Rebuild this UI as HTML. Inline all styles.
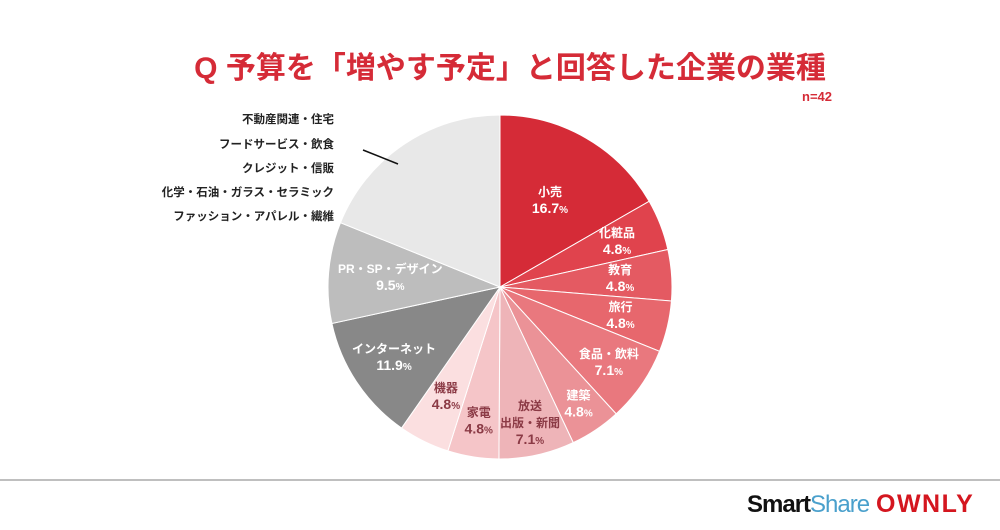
<!DOCTYPE html>
<html><head><meta charset="utf-8"><style>
body{margin:0;background:#fff;width:1000px;height:525px;overflow:hidden;font-family:"Liberation Sans","Noto Sans CJK JP",sans-serif}
</style></head><body>
<svg width="1000" height="525" id="svg" font-family="Liberation Sans, Noto Sans CJK JP, sans-serif">
<text x="510" y="78" text-anchor="middle" font-size="30" font-weight="bold" fill="#d52b37">Q 予算を「増やす予定」と回答した企業の業種</text>
<text x="832" y="101" text-anchor="end" font-size="13" font-weight="bold" fill="#d52b37">n=42</text>
<g id="slices"></g>
<g id="labels"></g>
<g font-size="11.5" font-weight="bold" fill="#222" text-anchor="end">
<text x="334" y="123">不動産関連・住宅</text>
<text x="334" y="148">フードサービス・飲食</text>
<text x="334" y="172">クレジット・信販</text>
<text x="334" y="196">化学・石油・ガラス・セラミック</text>
<text x="334" y="220">ファッション・アパレル・繊維</text>
</g>
<line x1="363" y1="150" x2="398" y2="164" stroke="#111" stroke-width="1.5"/>
<line x1="0" y1="480" x2="1000" y2="480" stroke="#aaa" stroke-width="1.5"/>
<text x="747" y="512" font-size="24" font-weight="bold" letter-spacing="-1"><tspan fill="#111">Smart</tspan><tspan fill="#4aa0cc" font-weight="normal">Share</tspan></text>
<text x="876" y="512" font-size="25" font-weight="bold" fill="#d4161f" letter-spacing="1.5">OWNLY</text>
</svg>
<script>
const categories=["小売","化粧品","教育","旅行","食品・飲料","建築","放送\n出版・新聞","家電","機器","インターネット","PR・SP・デザイン","その他"];
const values=[16.7,4.8,4.8,4.8,7.1,4.8,7.1,4.8,4.8,11.9,9.5,18.9];
const printed=["16.7","4.8","4.8","4.8","7.1","4.8","7.1","4.8","4.8","11.9","9.5",""];
const colors=["#d52b37","#e0434d","#e45a62","#e7676d","#e9787e","#eb9297","#eeb4b8","#f5c5c8","#fbdfe0","#888888","#bdbdbd","#e8e8e8"];
const textColors=["#fff","#fff","#fff","#fff","#fff","#fff","#8b3a45","#8b3a45","#8b3a45","#fff","#fff","#fff"];
const labelRadius=[0.58,0.73,0.70,0.72,0.77,0.82,0.81,0.79,0.71,0.74,0.64,0.6];
const cx=500,cy=287,r=172,NS="http://www.w3.org/2000/svg";
const total=values.reduce((a,b)=>a+b,0);
const ang=v=>v/total*2*Math.PI;
const pt=(a,rr)=>[cx+rr*Math.sin(a),cy-rr*Math.cos(a)];
let a0=0;const sg=document.getElementById('slices'),lg=document.getElementById('labels');
values.forEach((v,i)=>{
 const a1=a0+ang(v);const p0=pt(a0,r),p1=pt(a1,r);
 const p=document.createElementNS(NS,'path');
 p.setAttribute('d',`M${cx},${cy}L${p0[0]},${p0[1]}A${r},${r} 0 ${a1-a0>Math.PI?1:0} 1 ${p1[0]},${p1[1]}Z`);
 p.setAttribute('fill',colors[i]);p.setAttribute('stroke','#fff');p.setAttribute('stroke-width','1');
 
 
 sg.appendChild(p);
 if(printed[i]){
  const m=(a0+a1)/2;const c=pt(m,r*labelRadius[i]);
  const lines=categories[i].split("\n");
  const t=document.createElementNS(NS,'text');
  t.setAttribute('text-anchor','middle');t.setAttribute('font-weight','bold');t.setAttribute('fill',textColors[i]);
  
  
  const n=lines.length+1;let y=c[1]-(n-1)*8.5+4;
  lines.forEach(l=>{const ts=document.createElementNS(NS,'tspan');ts.setAttribute('x',c[0]);ts.setAttribute('y',y);ts.setAttribute('font-size','12');ts.textContent=l;t.appendChild(ts);y+=17;});
  const ts=document.createElementNS(NS,'tspan');ts.setAttribute('x',c[0]);ts.setAttribute('y',y);ts.setAttribute('font-size','14');ts.textContent=printed[i];
  const pc=document.createElementNS(NS,'tspan');pc.setAttribute('font-size','10');pc.textContent='%';ts.appendChild(pc);
  t.appendChild(ts);lg.appendChild(t);
 }
 a0=a1;
});
</script>
</body></html>
